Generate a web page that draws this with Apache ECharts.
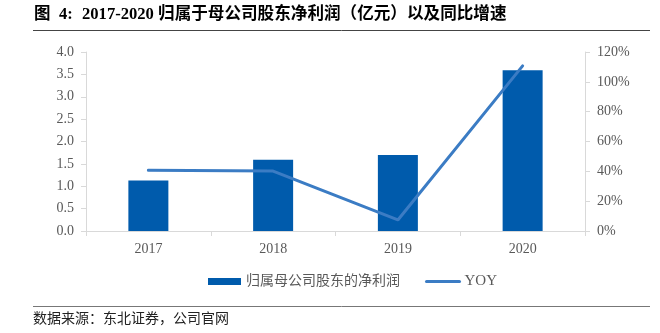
<!DOCTYPE html>
<html>
<head>
<meta charset="utf-8">
<script src="https://cdn.jsdelivr.net/npm/echarts@6/dist/echarts.min.js"></script>
<style>
html,body{margin:0;padding:0;background:#fff;}
#chart{width:660px;height:333px;}
</style>
</head>
<body>
<div id="chart"></div>
<script>
// Net profit attributable to parent shareholders (100M CNY) and YoY growth
const years = ['2017', '2018', '2019', '2020'];
const netProfit = [1.13, 1.59, 1.70, 3.59];
const yoy = [40.8, 40.2, 7.4, 110.7];
const leftTicks = { min: 0, max: 4, interval: 0.5 };
const rightTicks = { min: 0, max: 120, interval: 20 };

const serif = '"Liberation Serif","Times New Roman",serif';
const mixed = '"Liberation Serif","Noto Sans CJK SC",serif';
const cjk = '"Noto Sans CJK SC",serif';
const axisGray = '#d9d9d9';
const labelGray = '#595959';

const chart = echarts.init(document.getElementById('chart'), null, { renderer: 'canvas' });
chart.setOption({
  animation: false,
  backgroundColor: '#fff',
  graphic: [
    { type: 'text', left: 34, top: 6, style: { text: '图', font: 'bold 16.5px ' + mixed, fill: '#000' } },
    { type: 'text', left: 59, top: 6, style: { text: '4:', font: 'bold 16.5px ' + mixed, fill: '#000' } },
    { type: 'text', left: 82, top: 6, style: { text: '2017-2020 归属于母公司股东净利润（亿元）以及同比增速', font: 'bold 16.6px ' + mixed, fill: '#000' } },
    { type: 'line', shape: { x1: 33, y1: 30.5, x2: 650, y2: 30.5 }, style: { stroke: '#444', lineWidth: 1 } },
    { type: 'line', shape: { x1: 33, y1: 306.5, x2: 650, y2: 306.5 }, style: { stroke: '#777', lineWidth: 1 } },
    { type: 'text', left: 33, top: 311, style: { text: '数据来源：东北证券，公司官网', font: '14px ' + cjk, fill: '#222' } }
  ],
  grid: { left: 86, right: 75, top: 52, bottom: 102 },
  legend: {
    top: 269,
    left: 203,
    itemGap: 25,
    itemWidth: 33,
    itemHeight: 7,
    textStyle: { fontFamily: mixed, fontSize: 14, color: labelGray },
    data: [
      { name: '归属母公司股东的净利润', icon: 'rect' },
      { name: 'YOY', itemStyle: { opacity: 0 }, lineStyle: { width: 3 }, textStyle: { fontFamily: serif, fontSize: 15, color: labelGray } }
    ]
  },
  xAxis: {
    type: 'category',
    data: years,
    axisLine: { lineStyle: { color: axisGray, width: 1 } },
    axisTick: { show: true, lineStyle: { color: axisGray } },
    axisLabel: { fontFamily: serif, fontSize: 14, color: labelGray, margin: 11 }
  },
  yAxis: [
    {
      type: 'value',
      min: leftTicks.min, max: leftTicks.max, interval: leftTicks.interval,
      axisLine: { show: true, lineStyle: { color: axisGray } },
      axisTick: { show: true, lineStyle: { color: axisGray } },
      splitLine: { show: false },
      axisLabel: { fontFamily: serif, fontSize: 14, color: labelGray, margin: 12, formatter: v => v.toFixed(1) }
    },
    {
      type: 'value',
      min: rightTicks.min, max: rightTicks.max, interval: rightTicks.interval,
      axisLine: { show: true, lineStyle: { color: axisGray } },
      axisTick: { show: true, lineStyle: { color: axisGray } },
      splitLine: { show: false },
      axisLabel: { fontFamily: serif, fontSize: 14, color: labelGray, margin: 12, formatter: v => v + '%' }
    }
  ],
  series: [
    {
      name: '归属母公司股东的净利润',
      type: 'bar',
      data: netProfit,
      barWidth: 40,
      itemStyle: { color: '#005bac' }
    },
    {
      name: 'YOY',
      type: 'line',
      yAxisIndex: 1,
      data: yoy,
      symbol: 'none',
      lineStyle: { color: '#3b7cc4', width: 3, cap: 'round' },
      itemStyle: { color: '#3b7cc4' }
    }
  ]
});
</script>
</body>
</html>
